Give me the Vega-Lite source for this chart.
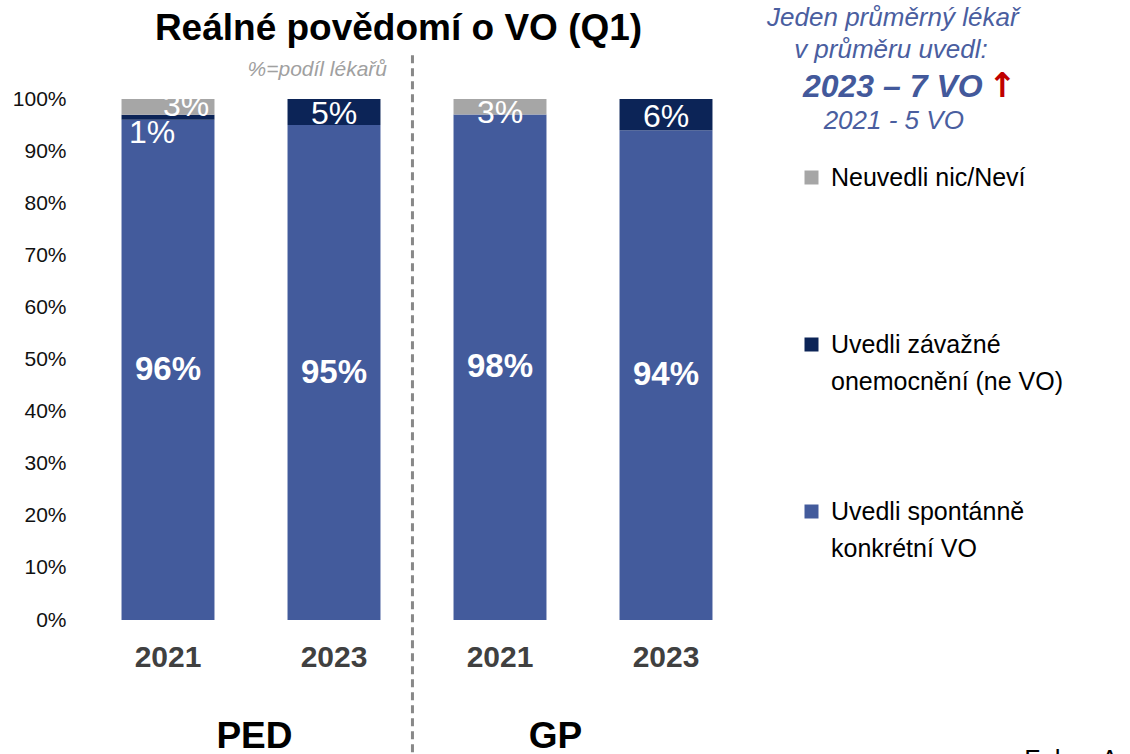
{
  "$schema": "https://vega.github.io/schema/vega-lite/v6.json",
  "width": 664,
  "height": 521,
  "autosize": {"type": "none"},
  "padding": {"left": 85, "top": 99, "right": 381, "bottom": 134},
  "background": "white",
  "config": {
    "view": {"stroke": null},
    "font": "Liberation Sans",
    "text": {"font": "Liberation Sans"}
  },
  "layer": [
    {
      "data": {
        "values": [
          {"cat": "PED 2021", "series": "Uvedli spontánně konkrétní VO", "value": 96},
          {"cat": "PED 2021", "series": "Uvedli závažné onemocnění (ne VO)", "value": 1},
          {"cat": "PED 2021", "series": "Neuvedli nic/Neví", "value": 3},
          {"cat": "PED 2023", "series": "Uvedli spontánně konkrétní VO", "value": 95},
          {"cat": "PED 2023", "series": "Uvedli závažné onemocnění (ne VO)", "value": 5},
          {"cat": "GP 2021", "series": "Uvedli spontánně konkrétní VO", "value": 98},
          {"cat": "GP 2021", "series": "Neuvedli nic/Neví", "value": 3},
          {"cat": "GP 2023", "series": "Uvedli spontánně konkrétní VO", "value": 94},
          {"cat": "GP 2023", "series": "Uvedli závažné onemocnění (ne VO)", "value": 6}
        ]
      },
      "transform": [
        {"calculate": "indexof(['Uvedli spontánně konkrétní VO','Uvedli závažné onemocnění (ne VO)','Neuvedli nic/Neví'], datum.series)", "as": "ord"},
        {"stack": "value", "groupby": ["cat"], "sort": [{"field": "ord", "order": "ascending"}], "offset": "normalize", "as": ["y0", "y1"]},
        {"calculate": "(datum.y0 + datum.y1) / 2", "as": "ymid"},
        {"calculate": "datum.value + '%'", "as": "label"}
      ],
      "layer": [
        {
          "mark": {"type": "bar"},
          "encoding": {
            "x": {
              "field": "cat",
              "type": "nominal",
              "title": null,
              "sort": ["PED 2021", "PED 2023", "GP 2021", "GP 2023"],
              "scale": {"domain": ["PED 2021", "PED 2023", "GP 2021", "GP 2023"], "paddingInner": 0.44, "paddingOuter": 0.22},
              "axis": {
                "title": null,
                "labelAngle": 0,
                "labelExpr": "split(datum.value, ' ')[1]",
                "labelFont": "Liberation Sans",
                "labelFontSize": 30,
                "labelFontWeight": "bold",
                "labelColor": "#404040",
                "labelPadding": 22,
                "domain": false,
                "ticks": false
              }
            },
            "y": {
              "field": "y0",
              "type": "quantitative",
              "title": null,
              "scale": {"domain": [0, 1], "nice": false},
              "axis": {
                "title": null,
                "format": ".0%",
                "values": [0, 0.1, 0.2, 0.3, 0.4, 0.5, 0.6, 0.7, 0.8, 0.9, 1],
                "labelFont": "Liberation Sans",
                "labelFontSize": 21,
                "labelColor": "#111111",
                "labelPadding": 19,
                "domain": false,
                "ticks": false,
                "grid": false
              }
            },
            "y2": {"field": "y1"},
            "color": {
              "field": "series",
              "type": "nominal",
              "scale": {
                "domain": ["Neuvedli nic/Neví", "Uvedli závažné onemocnění (ne VO)", "Uvedli spontánně konkrétní VO"],
                "range": ["#A6A6A6", "#0C2457", "#435B9C"]
              },
              "legend": {
                "title": null,
                "orient": "none",
                "legendX": 714,
                "legendY": 66,
                "padding": 0,
                "symbolType": "square",
                "symbolSize": 196,
                "symbolStrokeWidth": 0,
                "labelFont": "Liberation Sans",
                "labelFontSize": 25,
                "labelColor": "#000000",
                "labelOffset": 7,
                "labelLimit": 400,
                "rowPadding": 104,
                "labelExpr": "datum.label == 'Uvedli závažné onemocnění (ne VO)' ? ['Uvedli závažné', 'onemocnění (ne VO)'] : datum.label == 'Uvedli spontánně konkrétní VO' ? ['Uvedli spontánně', 'konkrétní VO'] : [datum.label, ' ']",
                "encode": {"labels": {"update": {"lineHeight": {"value": 37}}}}
              }
            }
          }
        },
        {
          "transform": [{"filter": "datum.series == 'Uvedli spontánně konkrétní VO'"}],
          "mark": {"type": "text", "fontSize": 33, "fontWeight": "bold", "color": "white", "baseline": "middle", "font": "Liberation Sans"},
          "encoding": {
            "x": {"field": "cat", "type": "nominal", "title": null},
            "y": {"field": "ymid", "type": "quantitative", "title": null},
            "text": {"field": "label"}
          }
        },
        {
          "transform": [{"filter": "datum.series == 'Uvedli závažné onemocnění (ne VO)' && datum.cat != 'PED 2021'"}],
          "mark": {"type": "text", "fontSize": 32, "color": "white", "baseline": "middle", "font": "Liberation Sans", "dy": 2},
          "encoding": {
            "x": {"field": "cat", "type": "nominal", "title": null},
            "y": {"field": "ymid", "type": "quantitative", "title": null},
            "text": {"field": "label"}
          }
        },
        {
          "transform": [{"filter": "datum.series == 'Neuvedli nic/Neví' && datum.cat == 'GP 2021'"}],
          "mark": {"type": "text", "fontSize": 32, "color": "white", "baseline": "middle", "font": "Liberation Sans", "dy": 6},
          "encoding": {
            "x": {"field": "cat", "type": "nominal", "title": null},
            "y": {"field": "ymid", "type": "quantitative", "title": null},
            "text": {"field": "label"}
          }
        },
        {
          "transform": [{"filter": "datum.series == 'Neuvedli nic/Neví' && datum.cat == 'PED 2021'"}],
          "mark": {"type": "text", "fontSize": 32, "color": "white", "baseline": "middle", "font": "Liberation Sans", "dx": 18, "dy": -1},
          "encoding": {
            "x": {"field": "cat", "type": "nominal", "title": null},
            "y": {"field": "ymid", "type": "quantitative", "title": null},
            "text": {"field": "label"}
          }
        },
        {
          "transform": [{"filter": "datum.series == 'Uvedli závažné onemocnění (ne VO)' && datum.cat == 'PED 2021'"}],
          "mark": {"type": "text", "fontSize": 32, "color": "white", "baseline": "middle", "font": "Liberation Sans", "dx": -16, "dy": 16},
          "encoding": {
            "x": {"field": "cat", "type": "nominal", "title": null},
            "y": {"field": "ymid", "type": "quantitative", "title": null},
            "text": {"field": "label"}
          }
        }
      ]
    },
    {
      "data": {"values": [{}]},
      "mark": {"type": "rule", "color": "#888888", "strokeWidth": 3, "strokeDash": [8, 5], "clip": false},
      "encoding": {
        "x": {"datum": "PED 2023", "bandPosition": 1.344, "title": null},
        "y": {"datum": 1.084, "title": null},
        "y2": {"datum": -0.26}
      }
    },
    {
      "data": {"values": [{"t": "Reálné povědomí o VO (Q1)"}]},
      "mark": {"type": "text", "fontSize": 37, "fontWeight": "bold", "color": "#000000", "baseline": "middle", "font": "Liberation Sans"},
      "encoding": {
        "x": {"datum": "PED 2023", "bandPosition": 1.194, "title": null},
        "y": {"datum": 1.134, "title": null},
        "text": {"field": "t"}
      }
    },
    {
      "data": {"values": [{"g": "PED"}]},
      "mark": {"type": "text", "fontSize": 37, "fontWeight": "bold", "color": "#000000", "baseline": "middle", "font": "Liberation Sans"},
      "encoding": {
        "x": {"datum": "PED 2021", "bandPosition": 1.43, "title": null},
        "y": {"datum": -0.2246, "title": null},
        "text": {"field": "g"}
      }
    },
    {
      "data": {"values": [{"g": "GP"}]},
      "mark": {"type": "text", "fontSize": 37, "fontWeight": "bold", "color": "#000000", "baseline": "middle", "font": "Liberation Sans"},
      "encoding": {
        "x": {"datum": "GP 2021", "bandPosition": 1.097, "title": null},
        "y": {"datum": -0.2246, "title": null},
        "text": {"field": "g"}
      }
    },
    {
      "data": {"values": [{"t": "Fokus A"}]},
      "mark": {"type": "text", "fontSize": 26, "color": "#000000", "align": "left", "baseline": "alphabetic", "font": "Liberation Sans"},
      "encoding": {
        "x": {"datum": "GP 2023", "bandPosition": 4.355, "title": null},
        "y": {"datum": -0.285, "title": null},
        "text": {"field": "t"}
      }
    },
    {
      "data": {"values": [{"t": "%=podíl lékařů"}]},
      "mark": {"type": "text", "fontSize": 21, "fontStyle": "italic", "color": "#A0A0A0", "baseline": "middle", "font": "Liberation Sans"},
      "encoding": {
        "x": {"datum": "PED 2023", "bandPosition": 0.32, "title": null},
        "y": {"datum": 1.056, "title": null},
        "text": {"field": "t"}
      }
    },
    {
      "data": {"values": [{"t": "Jeden průměrný lékař"}]},
      "mark": {"type": "text", "fontSize": 26, "fontStyle": "italic", "color": "#4A5E9F", "baseline": "middle", "font": "Liberation Sans"},
      "encoding": {
        "x": {"datum": "GP 2023", "bandPosition": 2.94, "title": null},
        "y": {"datum": 1.155, "title": null},
        "text": {"field": "t"}
      }
    },
    {
      "data": {"values": [{"t": "v průměru uvedl:"}]},
      "mark": {"type": "text", "fontSize": 26, "fontStyle": "italic", "color": "#4A5E9F", "baseline": "middle", "font": "Liberation Sans"},
      "encoding": {
        "x": {"datum": "GP 2023", "bandPosition": 2.92, "title": null},
        "y": {"datum": 1.094, "title": null},
        "text": {"field": "t"}
      }
    },
    {
      "data": {"values": [{"t": "2023 – 7 VO"}]},
      "mark": {"type": "text", "fontSize": 32, "fontStyle": "italic", "fontWeight": "bold", "color": "#43599B", "baseline": "middle", "font": "Liberation Sans"},
      "encoding": {
        "x": {"datum": "GP 2023", "bandPosition": 2.94, "title": null},
        "y": {"datum": 1.023, "title": null},
        "text": {"field": "t"}
      }
    },
    {
      "data": {"values": [{"t": "↑"}]},
      "mark": {"type": "text", "fontSize": 34, "fontWeight": "bold", "color": "#C00000", "baseline": "middle", "font": "DejaVu Sans"},
      "encoding": {
        "x": {"datum": "GP 2023", "bandPosition": 4.12, "title": null},
        "y": {"datum": 1.023, "title": null},
        "text": {"field": "t"}
      }
    },
    {
      "data": {"values": [{"t": "2021 - 5 VO"}]},
      "mark": {"type": "text", "fontSize": 26, "fontStyle": "italic", "color": "#4A5E9F", "baseline": "middle", "font": "Liberation Sans"},
      "encoding": {
        "x": {"datum": "GP 2023", "bandPosition": 2.95, "title": null},
        "y": {"datum": 0.958, "title": null},
        "text": {"field": "t"}
      }
    }
  ]
}
